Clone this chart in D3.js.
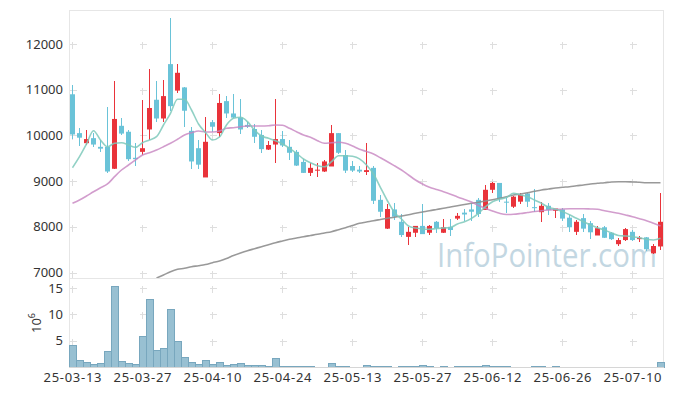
<!DOCTYPE html>
<meta charset="utf-8">
<style>
body { margin: 0; background: #fff; }
.tick-label { font: 13px "Noto Sans", sans-serif; fill: #333; }
.frame { fill: none; stroke: #e6e6e6; stroke-width: 1px; shape-rendering: crispEdges; }
.cross { stroke: #dedede; stroke-width: 1px; shape-rendering: crispEdges; }
.wick { stroke-width: 1px; shape-rendering: crispEdges; }
.ma { fill: none; stroke-width: 1.6px; stroke-linejoin: round; }
.vol { fill: #98c0d2; stroke: #78a7be; stroke-width: 1px; shape-rendering: crispEdges; }
.watermark { font: 33px "Open Sans", sans-serif; fill: #c3d7e2; }
</style>
<body>
<svg width="673" height="396"></svg>
<script src="https://cdnjs.cloudflare.com/ajax/libs/d3/7.8.5/d3.min.js"></script>
<script>
var dates = ["25-03-13","25-03-14","25-03-17","25-03-18","25-03-19","25-03-20","25-03-21","25-03-24","25-03-25","25-03-26",
  "25-03-27","25-03-28","25-03-31","25-04-01","25-04-02","25-04-03","25-04-04","25-04-07","25-04-08","25-04-09",
  "25-04-10","25-04-11","25-04-14","25-04-15","25-04-16","25-04-17","25-04-18","25-04-21","25-04-22","25-04-23",
  "25-04-24","25-04-25","25-04-28","25-04-29","25-04-30","25-05-02","25-05-07","25-05-08","25-05-09","25-05-12",
  "25-05-13","25-05-14","25-05-15","25-05-16","25-05-19","25-05-20","25-05-21","25-05-22","25-05-23","25-05-26",
  "25-05-27","25-05-28","25-05-29","25-05-30","25-06-02","25-06-04","25-06-05","25-06-09","25-06-10","25-06-11",
  "25-06-12","25-06-13","25-06-16","25-06-17","25-06-18","25-06-19","25-06-20","25-06-23","25-06-24","25-06-25",
  "25-06-26","25-06-27","25-06-30","25-07-01","25-07-02","25-07-03","25-07-04","25-07-07","25-07-08","25-07-09",
  "25-07-10","25-07-11","25-07-14","25-07-15","25-07-16"];

var opens = [10900,10050,9830,9940,9750,9750,9270,10210,10080,9510,9640,10130,10780,10370,11560,10980,11050,10100,9720,9080,
  10290,10050,10750,10480,10390,10230,10140,10010,9690,9800,9920,9750,9640,9420,9180,9230,9210,9320,10050,9570,
  9330,9250,9200,9290,8590,7960,8380,8110,7780,7870,8020,7870,8110,7870,8000,8180,8310,8380,8590,8370,
  8810,8960,8550,8440,8550,8730,8430,8320,8460,8350,8380,8200,7890,8190,8080,7810,7990,7870,7620,7710,
  7890,7730,7770,7420,7570];
var highs = [11100,10160,10110,10050,9900,10620,11180,10370,10120,9830,10780,11450,11180,11210,12560,11560,11070,10190,9890,10410,
  10340,10900,10860,10900,10790,10300,10240,10120,9870,10790,10100,9890,9680,9480,9400,9390,9460,10220,10050,9670,
  9430,9340,9830,9320,8690,8500,8530,8280,7990,8020,8500,8030,8130,8180,8180,8310,8380,8510,8620,8920,
  8980,8960,8620,8670,8730,8750,8820,8550,8530,8400,8410,8260,8150,8280,8130,8020,8020,7890,7750,7980,
  7930,7800,7770,7620,8730];
var lows = [9920,9770,9790,9750,9630,9180,9260,10010,9430,9330,9570,9900,10290,10290,10530,10920,10190,9260,9260,9080,
  10070,9970,10370,10370,10020,10170,9830,9610,9690,9390,9740,9460,9320,9170,9110,9080,9210,9320,9590,9180,
  9210,9170,9130,8500,8220,7960,8150,7780,7600,7780,7840,7820,7870,7870,7800,8150,8130,8130,8220,8370,
  8730,8550,8300,8410,8510,8440,8330,8110,8260,8190,8130,7890,7820,7890,7730,7810,7750,7710,7590,7680,
  7680,7670,7480,7400,7490];
var closes = [10020,9950,9920,9800,9710,9210,10360,10040,9480,9480,9720,10600,10370,10860,10640,11370,10540,9430,9360,9860,
  10190,10710,10480,10390,10130,10190,9970,9700,9790,9920,9780,9620,9340,9180,9290,9250,9430,10050,9620,9230,
  9230,9210,9240,8570,8330,8390,8220,7820,7890,8020,7840,8020,7970,7990,7930,8240,8270,8330,8280,8810,
  8960,8620,8530,8660,8700,8550,8410,8460,8370,8400,8180,7990,8110,7960,7880,7970,7760,7730,7710,7950,
  7710,7760,7510,7580,8110];

var ma5 = [9293,9534,9812,10103,9900,9753,9827,9840,9790,9740,9840,9900,9972,10228,10484,10790,10790,10556,10250,10064,
  9900,9965,10228,10374,10396,10300,10118,9987,9937,9884,9812,9718,9609,9484,9403,9337,9315,9425,9556,9556,
  9543,9488,9353,9156,8860,8565,8313,8171,8018,7974,7952,7946,7963,7974,7985,8062,8112,8186,8296,8440,
  8550,8602,8641,8733,8696,8659,8587,8514,8427,8383,8335,8265,8186,8112,8040,7978,7930,7865,7810,7799,
  7784,7760,7727,7712,7749];
var ma20 = [8515,8587,8674,8768,8856,8937,9097,9243,9353,9462,9571,9622,9681,9753,9827,9915,10009,10059,10096,10075,
  10075,10096,10155,10169,10191,10206,10206,10206,10212,10228,10221,10155,10081,10009,9959,9884,9827,9840,9849,9827,
  9768,9696,9648,9593,9510,9425,9335,9243,9134,9024,8937,8865,8816,8768,8714,8652,8598,8543,8466,8405,
  8346,8296,8269,8274,8291,8313,8335,8353,8368,8379,8390,8396,8396,8396,8390,8383,8353,8324,8296,8259,
  8221,8178,8134,8077,8018];
var ma60 = [null,null,null,null,null,null,null,null,null,null,null,null,6880,6946,7018,7070,7092,7127,7149,7175,
  7215,7252,7307,7372,7427,7477,7521,7565,7609,7652,7690,7727,7755,7784,7810,7836,7865,7893,7937,7981,
  8029,8077,8105,8134,8160,8186,8210,8237,8265,8296,8324,8353,8379,8405,8434,8462,8488,8515,8539,8565,
  8593,8624,8659,8696,8718,8746,8777,8806,8827,8849,8865,8878,8900,8915,8937,8952,8965,8981,8987,8987,
  8981,8974,8965,8965,8965];

// volume in millions of shares
var volume = [4.1,1.33,0.95,0.57,0.7,3.0,15.4,1.14,0.76,0.57,5.8,13.0,3.2,3.7,11.1,4.9,1.83,0.95,0.57,1.33,
  0.57,0.9,0.32,0.51,0.7,0.32,0.32,0.32,0.19,1.7,0.13,0.13,0.13,0.13,0.13,0,0,0.7,0.13,0.13,
  0,0,0.38,0.13,0.13,0.13,0,0.13,0.13,0.13,0.38,0.13,0,0.13,0,0.13,0.13,0.13,0.13,0.38,
  0.13,0.13,0.13,0,0,0,0.13,0.13,0,0.13,0,0,0,0,0,0,0,0,0,0,
  0,0,0,0,0.9];

var priceTicks = [7000, 8000, 9000, 10000, 11000, 12000];
var volTicks = [5, 10, 15];
var xTicks = ["25-03-13","25-03-27","25-04-10","25-04-24","25-05-13","25-05-27","25-06-12","25-06-26","25-07-10"];

var upColor = "#e9333a", downColor = "#6ac3d8";

var svg = d3.select("svg"),
    plotLeft = 69, plotRight = 664,
    plotTop = 10, plotSplit = 278, plotBottom = 367;

var x = d3.scaleBand().domain(dates).range([plotLeft, plotRight]).padding(0);
var y = d3.scaleLinear().domain([6880, 12744]).range([plotSplit, plotTop]);
var yv = d3.scaleLinear().domain([0, 16.9]).range([plotBottom, plotSplit]);
var cx = function(i) { return x(dates[i]) + x.bandwidth() / 2; };

svg.append("defs").append("clipPath").attr("id", "clip-price")
  .append("rect").attr("x", plotLeft).attr("y", plotTop).attr("width", plotRight - plotLeft).attr("height", plotSplit - plotTop);

// frame
svg.append("rect").attr("class", "frame")
  .attr("x", plotLeft + 0.5).attr("y", plotTop + 0.5)
  .attr("width", plotRight - plotLeft - 1).attr("height", plotBottom - plotTop);
svg.append("line").attr("class", "frame")
  .attr("x1", plotLeft).attr("x2", plotRight).attr("y1", plotSplit + 0.5).attr("y2", plotSplit + 0.5);

// grid crosses
function crosses(yVals, scale) {
  xTicks.forEach(function(t) {
    yVals.forEach(function(v) {
      var px = Math.floor(x(t) + x.bandwidth() / 2) + 0.5, py = Math.round(scale(v)) + 0.5;
      svg.append("line").attr("class", "cross").attr("x1", px - 3).attr("x2", px + 4).attr("y1", py).attr("y2", py);
      svg.append("line").attr("class", "cross").attr("x1", px).attr("x2", px).attr("y1", py - 3).attr("y2", py + 4);
    });
  });
}
crosses(priceTicks, y);
crosses(volTicks, yv);

// watermark
svg.append("text").attr("class", "watermark")
  .attr("x", 437).attr("y", 267)
  .attr("textLength", 220).attr("lengthAdjust", "spacingAndGlyphs")
  .text("InfoPointer.com");

// price axis labels
svg.selectAll(".plabel").data(priceTicks).enter().append("text")
  .attr("class", "tick-label plabel")
  .attr("x", 63).attr("y", function(d) { return y(d); })
  .attr("dy", "0.35em").attr("text-anchor", "end")
  .text(function(d) { return d; });

svg.selectAll(".vlabel").data(volTicks).enter().append("text")
  .attr("class", "tick-label vlabel")
  .attr("x", 63).attr("y", function(d) { return yv(d); })
  .attr("dy", "0.35em").attr("text-anchor", "end")
  .text(function(d) { return d; });

var unit = svg.append("text").attr("class", "tick-label")
  .attr("transform", "translate(41,323) rotate(-90)")
  .attr("text-anchor", "middle");
unit.append("tspan").text("10");
unit.append("tspan").attr("dy", "-6").attr("font-size", "9px").text("6");

// x axis labels
svg.selectAll(".xlabel").data(xTicks).enter().append("text")
  .attr("class", "tick-label xlabel")
  .attr("x", function(d) { return x(d) + x.bandwidth() / 2 - 29; })
  .attr("y", 382)
  .attr("textLength", 58).attr("lengthAdjust", "spacing")
  .text(function(d) { return d; });

// candles
var g = svg.append("g").attr("clip-path", "url(#clip-price)");
var idx = d3.range(dates.length);

g.selectAll(".wick").data(idx).enter().append("line")
  .attr("class", "wick")
  .attr("x1", function(i) { return Math.floor(cx(i)) + 0.5; })
  .attr("x2", function(i) { return Math.floor(cx(i)) + 0.5; })
  .attr("y1", function(i) { return y(highs[i]); })
  .attr("y2", function(i) { return y(lows[i]); })
  .attr("stroke", function(i) { return closes[i] >= opens[i] ? upColor : downColor; });

g.selectAll(".body").data(idx).enter().append("rect")
  .attr("class", "body")
  .attr("x", function(i) { return Math.floor(cx(i)) - 2; })
  .attr("width", 5)
  .attr("y", function(i) { return y(Math.max(opens[i], closes[i])); })
  .attr("height", function(i) { return Math.max(1, Math.abs(y(opens[i]) - y(closes[i]))); })
  .attr("fill", function(i) { return closes[i] >= opens[i] ? upColor : downColor; });

// moving averages
function maLine(vals) {
  return d3.line()
    .defined(function(i) { return vals[i] != null; })
    .x(function(i) { return cx(i); })
    .y(function(i) { return y(vals[i]); })
    .curve(d3.curveMonotoneX)(idx);
}
g.append("path").attr("class", "ma").attr("d", maLine(ma60)).attr("stroke", "#8e8e8e").attr("stroke-opacity", 0.9);
g.append("path").attr("class", "ma").attr("d", maLine(ma20)).attr("stroke", "#c784c0").attr("stroke-opacity", 0.8);
g.append("path").attr("class", "ma").attr("d", maLine(ma5)).attr("stroke", "#7ec9bb").attr("stroke-opacity", 0.85);

// volume bars
svg.selectAll(".vol").data(idx.filter(function(i) { return volume[i] > 0; })).enter().append("rect")
  .attr("class", "vol")
  .attr("x", function(i) { return x(dates[i]) + 0.5; })
  .attr("width", x.bandwidth())
  .attr("y", function(i) { return Math.round(yv(volume[i])) + 0.5; })
  .attr("height", function(i) { return Math.max(0, plotBottom - Math.round(yv(volume[i])) - 0.5); });

svg.append("line").attr("x1", plotLeft).attr("x2", plotRight).attr("y1", plotBottom + 0.5).attr("y2", plotBottom + 0.5)
  .attr("stroke", "#d6d6d6").attr("shape-rendering", "crispEdges");
</script>
</body>
